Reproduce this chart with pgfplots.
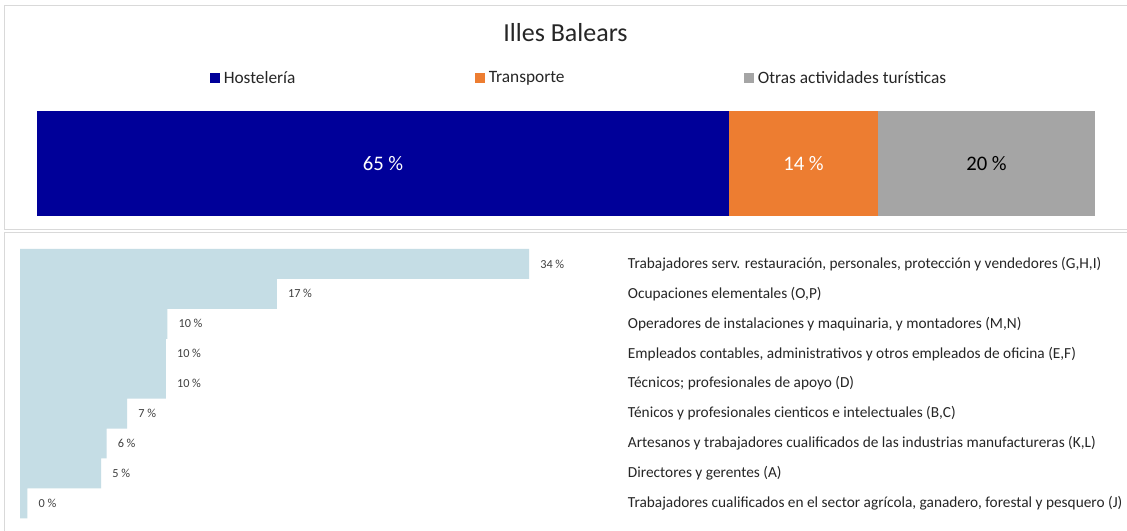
\documentclass[border=0pt]{standalone}
\usepackage{fontspec}
\setmainfont{Carlito}
\usepackage{pgfplots}
\pgfplotsset{compat=1.18}

\definecolor{hostel}{HTML}{000099}
\definecolor{transp}{HTML}{ED7D31}
\definecolor{otras}{HTML}{A5A5A5}
\definecolor{ocup}{HTML}{C5DDE5}
\definecolor{frame}{HTML}{D9D9D9}
\definecolor{txt}{HTML}{262626}
\definecolor{lbl}{HTML}{404040}

\newcommand{\fs}[1]{\fontsize{#1}{#1}\selectfont}

\begin{document}
\begin{tikzpicture}
% 1 px of the reference = 0.75pt
\useasboundingbox (0pt,0pt) rectangle (845.25pt,-398.25pt);
\fill[white] (0pt,0pt) rectangle (845.25pt,-398.25pt);
\draw[frame, line width=0.75pt] (3pt,-4.5pt) rectangle (851pt,-171.75pt);
\draw[frame, line width=0.75pt] (3pt,-174.4pt) rectangle (851pt,-405pt);

\node[font=\fs{19.5}, text=txt] at (424.1pt,-24.75pt) {Illes Balears};

% top panel: shares by activity
\begin{axis}[
  at={(27.75pt,-162pt)}, anchor=south west,
  scale only axis, width=793.5pt, height=78.75pt,
  xbar stacked, bar width=78.75pt,
  xmin=0, xmax=100, ymin=0.5, ymax=1.5,
  hide axis,
  point meta=explicit symbolic,
  nodes near coords={\pgfplotspointmeta\hspace{0.22em}\%},
  every node near coord/.append style={anchor=center, font=\fs{15.5}},
  legend columns=3,
  legend style={at={(0.5123,1.314)}, anchor=center, draw=none, fill=none,
    font=\fs{13}, text=txt,
    /tikz/every odd column/.append style={column sep=1.5pt},
    /tikz/every even column/.append style={column sep=133pt},
    nodes={inner sep=1.5pt}},
  legend image code/.code={\fill[#1] (0pt,-3.75pt) rectangle (7.5pt,3.75pt);},
]
\addplot[fill=hostel, draw=none,
  every node near coord/.append style={text=white}]
  coordinates {(65.4,1) [65]};
\addlegendentry{Hostelería}
\addplot[fill=transp, draw=none,
  every node near coord/.append style={text=white}]
  coordinates {(14.1,1) [14]};
\addlegendentry{Transporte}
\addplot[fill=otras, draw=none,
  every node near coord/.append style={text=black}]
  coordinates {(20.5,1) [20]};
\addlegendentry{Otras actividades turísticas}
\end{axis}

% bottom panel: occupations
\begin{axis}[
  at={(15pt,-388.7pt)}, anchor=south west,
  scale only axis, width=456pt, height=202pt,
  xbar, bar width=22.5pt,
  xmin=0, xmax=40.61, ymin=-0.5, ymax=8.5,
  y dir=reverse,
  axis line style={draw=none}, tick style={draw=none},
  xtick=\empty,
  ytick={0,...,8},
  yticklabel pos=right,
  yticklabel style={font=\fs{11.5}, text=txt, inner sep=0pt, anchor=west,
    xshift=-4.5pt},
  yticklabels={
    {Trabajadores serv. restauración, personales, protección y vendedores (G,H,I)},
    {Ocupaciones elementales (O,P)},
    {Operadores de instalaciones y maquinaria, y montadores (M,N)},
    {Empleados contables, administrativos y otros empleados de oficina (E,F)},
    {Técnicos; profesionales de apoyo (D)},
    {Ténicos y profesionales cienticos e intelectuales (B,C)},
    {Artesanos y trabajadores cualificados de las industrias manufactureras (K,L)},
    {Directores y gerentes (A)},
    {Trabajadores cualificados en el sector agrícola, ganadero, forestal y pesquero (J)}},
  point meta=explicit symbolic,
  nodes near coords={\pgfplotspointmeta\hspace{0.22em}\%},
  every node near coord/.append style={anchor=west, inner sep=0pt, xshift=8.25pt,
    font=\fs{9.2}, text=lbl},
]
\addplot[fill=ocup, draw=none] coordinates {
  (34.0,0) [34]
  (17.15,1) [17]
  (9.84,2) [10]
  (9.74,3) [10]
  (9.74,4) [10]
  (7.16,5) [7]
  (5.78,6) [6]
  (5.42,7) [5]
  (0.49,8) [0]
};
\end{axis}
\end{tikzpicture}
\end{document}
